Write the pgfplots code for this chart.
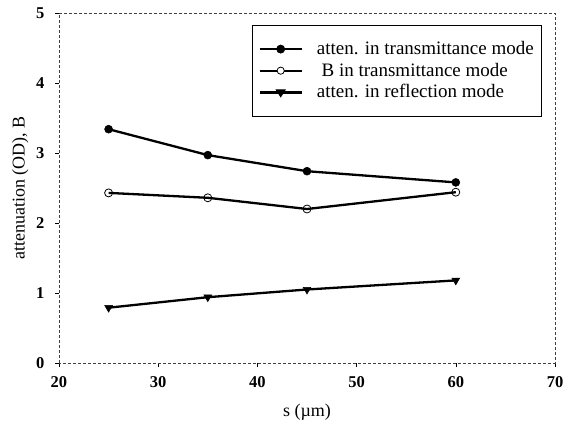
\documentclass[border=0pt]{standalone}
\usepackage{pgfplots}
\pgfplotsset{compat=1.18}
\usepackage{fontspec}
\setmainfont{Liberation Serif}
\begin{document}
\fontsize{16}{18}\selectfont
\begin{tikzpicture}
\begin{axis}[
  scale only axis, width=496pt, height=350pt,
  xmin=20, xmax=70, ymin=0, ymax=5,
  xtick={20,30,40,50,60,70}, ytick={0,1,2,3,4,5},
  xtick pos=left, ytick pos=left,
  /pgf/number format/assume math mode=true,
  tick label style={font=\fontsize{16.5}{18}\selectfont\bfseries},
  xticklabel style={yshift=-4pt},
  yticklabel style={xshift=-5pt},
  label style={font=\fontsize{18}{20}\selectfont},
  axis line style={black!75, densely dashed, line width=0.5pt},
  tick style={black, line width=0.6pt},
  tick align=outside,
  major tick length=4pt,
  xlabel={s (µm)},
  ylabel={attenuation (OD), B},
  xlabel style={yshift=-5pt},
  ylabel style={yshift=-3pt},
  legend style={at={(0.974,0.966)}, anchor=north east, draw=black, line width=0.8pt,
    font=\fontsize{19}{21}\selectfont, row sep=2pt, inner xsep=6pt, inner ysep=14pt,
    /tikz/every odd column/.append style={column sep=12pt}},
  legend cell align=left,
]
\addplot[black, line width=2.3pt, mark=*, mark size=4pt, mark options={solid, line width=0.5pt}, forget plot]
  coordinates {(25,3.34) (35,2.97) (45,2.74) (60,2.58)};
\addplot[black, line width=2.3pt, mark=o, mark size=4pt, mark options={solid, fill=white, line width=0.8pt}, forget plot]
  coordinates {(25,2.43) (35,2.36) (45,2.20) (60,2.44)};
\addplot[black, line width=2.3pt, mark=triangle*, mark size=4.5pt, mark options={solid, rotate=180, line width=0.5pt}, forget plot]
  coordinates {(25,0.79) (35,0.94) (45,1.05) (60,1.18)};
\addlegendimage{legend image code/.code={
    \draw[black, solid, line width=2.3pt] (0pt,0pt) -- (42pt,0pt);
    \fill[black] (21pt,0pt) circle (4pt);}}
\addlegendentry{atten. in transmittance mode}
\addlegendimage{legend image code/.code={
    \draw[black, solid, line width=2.3pt] (0pt,0pt) -- (42pt,0pt);
    \filldraw[fill=white, draw=black, line width=0.8pt] (21pt,0pt) circle (3.6pt);}}
\addlegendentry{\ B in transmittance mode}
\addlegendimage{legend image code/.code={
    \draw[black, solid, line width=2.3pt] (0pt,0pt) -- (42pt,0pt);
    \fill[black] (21pt,-4.5pt) -- (16.5pt,2.5pt) -- (25.5pt,2.5pt) -- cycle;}}
\addlegendentry{atten. in reflection mode}
\end{axis}
\pgfresetboundingbox
\path (-59pt,-57pt) rectangle (505pt,363pt);
\end{tikzpicture}
\end{document}
